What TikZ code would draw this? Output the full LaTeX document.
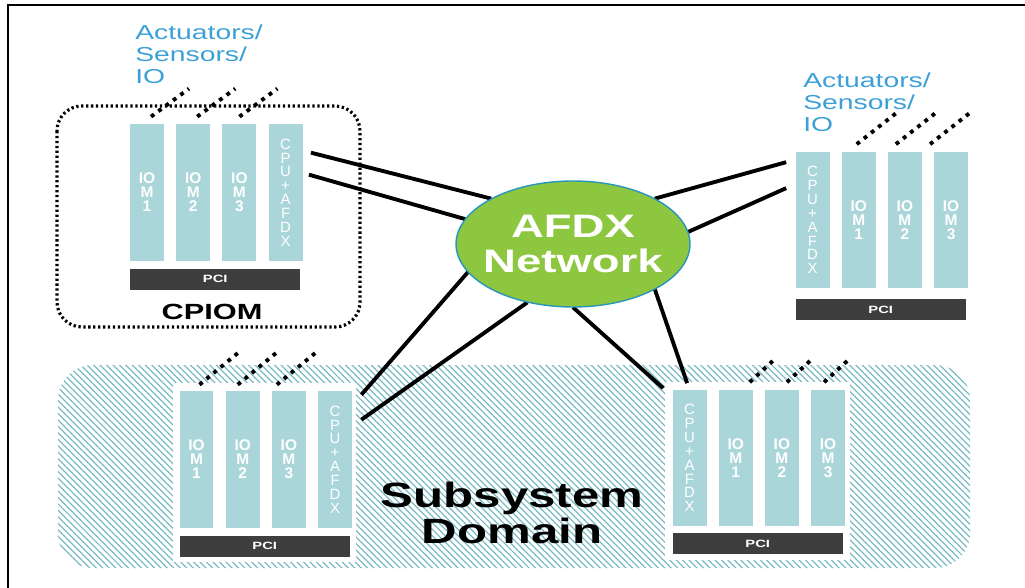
\documentclass[tikz,border=0pt]{standalone}
\usepackage{fontspec}
\setmainfont{Liberation Sans}
\newfontfamily\widefont{Liberation Sans}[FakeStretch=1.4]
\usepackage{tikz}
\usetikzlibrary{positioning,shapes.geometric,patterns.meta}
\definecolor{cardteal}{RGB}{170,214,218}
\definecolor{hatchteal}{RGB}{120,186,194}
\definecolor{pcigray}{RGB}{62,62,62}
\definecolor{netgreen}{RGB}{141,198,63}
\definecolor{netedge}{RGB}{40,150,185}
\definecolor{iolabel}{RGB}{60,160,215}

\begin{document}
\begin{tikzpicture}[x=0.02cm, y=-0.02cm,
    card/.style={rectangle, fill=cardteal, minimum width=0.68cm, minimum height=2.74cm,
        inner sep=0pt, align=center, text=white, font=\fontsize{8.8}{8}\selectfont\bfseries},
    cpucard/.style={card, font=\fontsize{8.5}{7.9}\selectfont},
    pci/.style={rectangle, fill=pcigray, minimum width=3.41cm, minimum height=0.42cm,
        inner sep=0pt, text=white, font=\widefont\fontsize{6}{6}\selectfont\bfseries},
    iotext/.style={anchor=west, align=left, inner sep=0pt, text=iolabel,
        font=\widefont\fontsize{11.5}{12.5}\selectfont},
    iolink/.style={line width=2.2pt, dash pattern=on 2.2pt off 3pt},
    link/.style={line width=2.2pt},
    node distance=0.23cm
]
\useasboundingbox (0,0) rectangle (1025,588);
\draw[line width=1.6pt] (8,588) -- (8,5) -- (1025,5);

% subsystem domain
\fill[pattern={Lines[angle=-45, distance=2.6pt, line width=0.7pt]}, pattern color=hatchteal,
    rounded corners=0.7cm] (58,365) rectangle (970,568);
\fill[white] (173,383) rectangle (356,562);
\fill[white] (665,382) rectangle (850,560);
\node[align=center, font=\widefont\fontsize{20}{20}\selectfont\bfseries] (domain) at (512,513) {Subsystem\\Domain};

% CPIOM
\draw[line width=1.8pt, dash pattern=on 1.3pt off 1.5pt, rounded corners=0.5cm] (57,106) rectangle (360,327);
\node[card] (a1) at (147,192.5) {IO\\M\\1};
\node[card, right=of a1] (a2) {IO\\M\\2};
\node[card, right=of a2] (a3) {IO\\M\\3};
\node[cpucard, right=of a3] (a4) {C\\P\\U\\+\\A\\F\\D\\X};
\node[pci, below right=0.14cm and 0cm of a1.south west, anchor=north west] (pciA) {PCI};
\node[font=\widefont\fontsize{12.5}{13}\selectfont\bfseries] (cpiom) at (212,312) {CPIOM};
\node[iotext] (ioA) at (135,54) {Actuators/\\Sensors/\\IO};
\foreach \c/\d in {a1/4,a2/4,a3/0}
    \draw[iolink] ([shift={(\d,-7)}]\c.north) -- ++(38,-28);

% top right module
\node[cpucard] (b4) at (812.5,220) {C\\P\\U\\+\\A\\F\\D\\X};
\node[card, right=of b4] (b1) {IO\\M\\1};
\node[card, right=of b1] (b2) {IO\\M\\2};
\node[card, right=of b2] (b3) {IO\\M\\3};
\node[pci, below right=0.2cm and 0cm of b4.south west, anchor=north west] (pciB) {PCI};
\node[iotext] (ioB) at (803,102) {Actuators/\\Sensors/\\IO};
\foreach \c/\d in {b1/-2,b2/-9,b3/-21}
    \draw[iolink] ([shift={(\d,-7)}]\c.north) -- ++(42,-33);

% bottom left module
\node[card] (c1) at (196.5,459.5) {IO\\M\\1};
\node[card, right=of c1] (c2) {IO\\M\\2};
\node[card, right=of c2] (c3) {IO\\M\\3};
\node[cpucard, right=of c3] (c4) {C\\P\\U\\+\\A\\F\\D\\X};
\node[pci, below right=0.14cm and 0cm of c1.south west, anchor=north west] (pciC) {PCI};
\foreach \c/\d in {c1/3,c2/-5,c3/-12}
    \draw[iolink] ([shift={(\d,-6)}]\c.north) -- ++(40,-33);

% bottom right module
\node[cpucard] (d4) at (689.5,458) {C\\P\\U\\+\\A\\F\\D\\X};
\node[card, right=of d4] (d1) {IO\\M\\1};
\node[card, right=of d1] (d2) {IO\\M\\2};
\node[card, right=of d2] (d3) {IO\\M\\3};
\node[pci, below right=0.12cm and 0cm of d4.south west, anchor=north west] (pciD) {PCI};
\foreach \c/\d in {d1/14,d2/5,d3/-4}
    \draw[iolink] ([shift={(\d,-7)}]\c.north) -- ++(24,-22);

% AFDX network
\node[ellipse, minimum width=4.68cm, minimum height=2.52cm, inner sep=0pt] (net) at (573,244) {};
\draw[link] ([shift={(8,29)}]a4.north east) -- (net.151);
\draw[link] ([shift={(6,51)}]a4.north east) -- (net.167);
\draw[link] (net.29) -- ([shift={(-9,11)}]b4.north west);
\draw[link] (net.6) -- ([shift={(-9,37)}]b4.north west);
\draw[link] (net.195) -- ([shift={(9,4)}]c4.north east);
\draw[link] (net.232) -- ([shift={(9,29)}]c4.north east);
\draw[link] (net.270) -- ([shift={(-9,-1)}]d4.north west);
\draw[link] (net.331) -- ([shift={(15,-6)}]d4.north west);
\fill[netgreen, draw=netedge, line width=0.8pt] (net.center) ellipse [x radius=2.34cm, y radius=1.26cm];
\node[align=center, text=white, font=\widefont\fontsize{18.5}{20.4}\selectfont\bfseries] (nettext) at (net) {AFDX\\Network};
\end{tikzpicture}
\end{document}
